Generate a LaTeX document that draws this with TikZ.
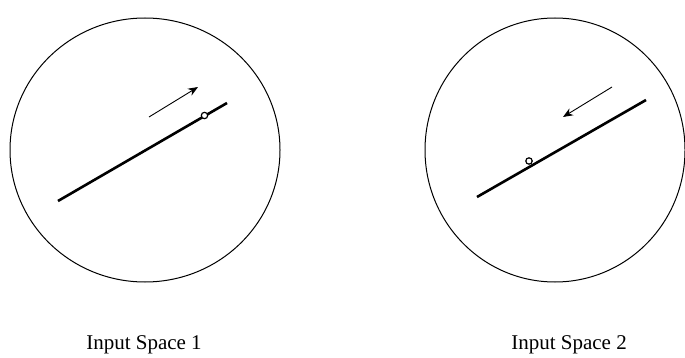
\documentclass[tikz,border=0pt]{standalone}
\usepackage{fontspec}
\setmainfont{Liberation Serif}
\usetikzlibrary{arrows.meta}
\tikzset{
  space/.style={draw, line width=0.5pt},
  track/.style={line width=1.3pt},
  motion/.style={-{Stealth[length=5pt, width=4pt]}, line width=0.45pt},
  ptmark/.style={draw, fill=white, circle, line width=0.6pt, inner sep=0pt, minimum size=3.2pt},
  caption/.style={font=\fontsize{10.5}{12}\selectfont}
}
\begin{document}
\begin{tikzpicture}[x=0.5pt, y=-0.5pt]
        \useasboundingbox (0,0) rectangle (685,358);
        % input space 1
        \draw[space] (145,150) ellipse [x radius=135, y radius=132];
        \coordinate (a1) at (58,201);
        \coordinate (b1) at (227,103);
        \coordinate (p1) at (149,117);
        \coordinate (q1) at (198,87);
        \draw[track] (a1) -- (b1);
        \draw[motion] (p1) -- (q1);
        \node[ptmark] (dot1) at (204.5,115.5) {};
        \node[caption] (lab1) at (144,345) {Input Space 1};
        % input space 2
        \draw[space] (555,150) ellipse [x radius=130, y radius=132];
        \coordinate (a2) at (477,197);
        \coordinate (b2) at (646,100);
        \coordinate (p2) at (612,87);
        \coordinate (q2) at (563,117);
        \draw[track] (a2) -- (b2);
        \draw[motion] (p2) -- (q2);
        \node[ptmark] (dot2) at (529,161) {};
        \node[caption] (lab2) at (569,345) {Input Space 2};
\end{tikzpicture}
\end{document}
